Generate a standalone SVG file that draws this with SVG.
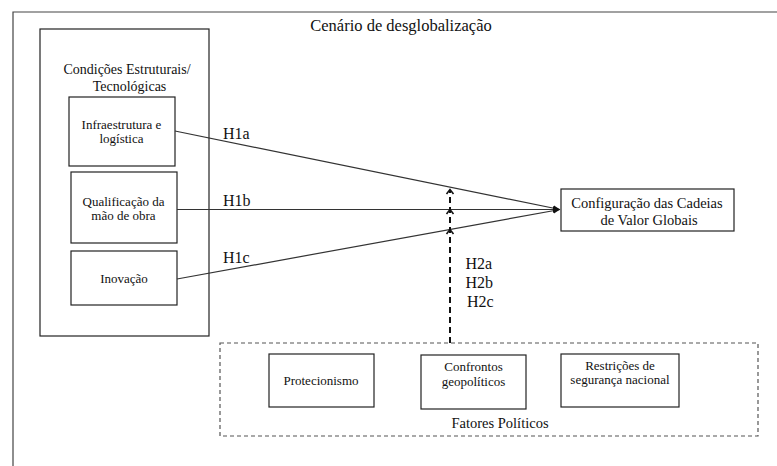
<svg xmlns="http://www.w3.org/2000/svg" width="777" height="466" viewBox="0 0 777 466" font-family="'Liberation Serif', 'Times New Roman', serif">
  <style>
    .box { fill: #fff; stroke: #222; stroke-width: 1.2; }
    .dash-box { fill: none; stroke: #555; stroke-width: 1.2; stroke-dasharray: 4 3; }
    .frame { fill: none; stroke: #444; stroke-width: 1.2; }
    .link { fill: none; stroke: #333; stroke-width: 1.2; }
    .mod { fill: none; stroke: #111; stroke-width: 2; stroke-dasharray: 6 4; }
    .chev { fill: none; stroke: #111; stroke-width: 1.6; }
    text { fill: #111; text-anchor: middle; }
    .t-node { font-size: 13px; }
    .t-big { font-size: 14.5px; }
    .t-group { font-size: 14px; }
    .t-lab { font-size: 16px; text-anchor: start; }
    .t-title { font-size: 16.5px; }
  </style>
  <defs>
    <marker id="solidHead" markerWidth="8" markerHeight="8" refX="7" refY="4" orient="auto" markerUnits="userSpaceOnUse">
      <path d="M0,1 L7,4 L0,7 Z" fill="#111"/>
    </marker>
  </defs>

  <rect width="777" height="466" fill="#fff"/>

  <!-- outer scenario frame (top and left edges visible) -->
  <g id="scenario">
    <path class="frame" d="M13,466 L13,12 L777,12"/>
    <text class="t-title" x="401" y="31">Cenário de desglobalização</text>
  </g>

  <!-- structural / technological conditions -->
  <g id="structural">
    <rect class="box" x="40" y="29" width="169" height="307"/>
    <text class="t-group" x="127" y="74">Condições Estruturais/</text>
    <text class="t-group" x="129.5" y="91">Tecnológicas</text>
  </g>
  <g id="infra">
    <rect class="box" x="69" y="97" width="106" height="69"/>
    <text class="t-node" x="121.5" y="128.5">Infraestrutura e</text>
    <text class="t-node" x="121.5" y="143">logística</text>
  </g>
  <g id="qualif">
    <rect class="box" x="71" y="172" width="106" height="71"/>
    <text class="t-node" x="123.5" y="205.5">Qualificação da</text>
    <text class="t-node" x="123.5" y="220">mão de obra</text>
  </g>
  <g id="inov">
    <rect class="box" x="71" y="251" width="106" height="54"/>
    <text class="t-node" x="124" y="283">Inovação</text>
  </g>

  <!-- dependent variable -->
  <g id="cvg">
    <rect class="box" x="561" y="189" width="173" height="42"/>
    <text class="t-big" x="647" y="208">Configuração das Cadeias</text>
    <text class="t-big" x="649" y="225">de Valor Globais</text>
  </g>

  <!-- political factors -->
  <g id="political">
    <rect class="dash-box" x="220" y="343" width="538" height="93"/>
    <text class="t-big" x="500" y="428">Fatores Políticos</text>
  </g>
  <g id="protec">
    <rect class="box" x="269" y="354" width="105" height="53"/>
    <text class="t-node" x="321" y="384.5">Protecionismo</text>
  </g>
  <g id="confront">
    <rect class="box" x="421" y="355" width="105" height="54"/>
    <text class="t-node" x="473.5" y="371">Confrontos</text>
    <text class="t-node" x="473.5" y="386">geopolíticos</text>
  </g>
  <g id="restr">
    <rect class="box" x="561" y="354" width="118" height="53"/>
    <text class="t-node" x="620" y="369.5">Restrições de</text>
    <text class="t-node" x="620" y="384">segurança nacional</text>
  </g>

  <!-- connectors -->
  <g id="connectors">
    <line class="link" x1="175" y1="131" x2="560" y2="209.5" marker-end="url(#solidHead)"/>
    <line class="link" x1="177" y1="209.5" x2="560" y2="209.5" marker-end="url(#solidHead)"/>
    <line class="link" x1="177" y1="279" x2="560" y2="209.5" marker-end="url(#solidHead)"/>

    <line class="mod" x1="450" y1="343" x2="450" y2="190"/>
    <path class="chev" d="M446.5,194 L450,189.5 L453.5,194"/>
    <path class="chev" d="M446.5,214 L450,209.5 L453.5,214"/>
    <path class="chev" d="M446.5,234 L450,229.5 L453.5,234"/>

    <text class="t-lab" x="223" y="138.5">H1a</text>
    <text class="t-lab" x="223" y="205.5">H1b</text>
    <text class="t-lab" x="223" y="262.5">H1c</text>
    <text class="t-lab" x="465.5" y="268.5">H2a</text>
    <text class="t-lab" x="465.5" y="288">H2b</text>
    <text class="t-lab" x="467" y="307">H2c</text>
  </g>
</svg>
